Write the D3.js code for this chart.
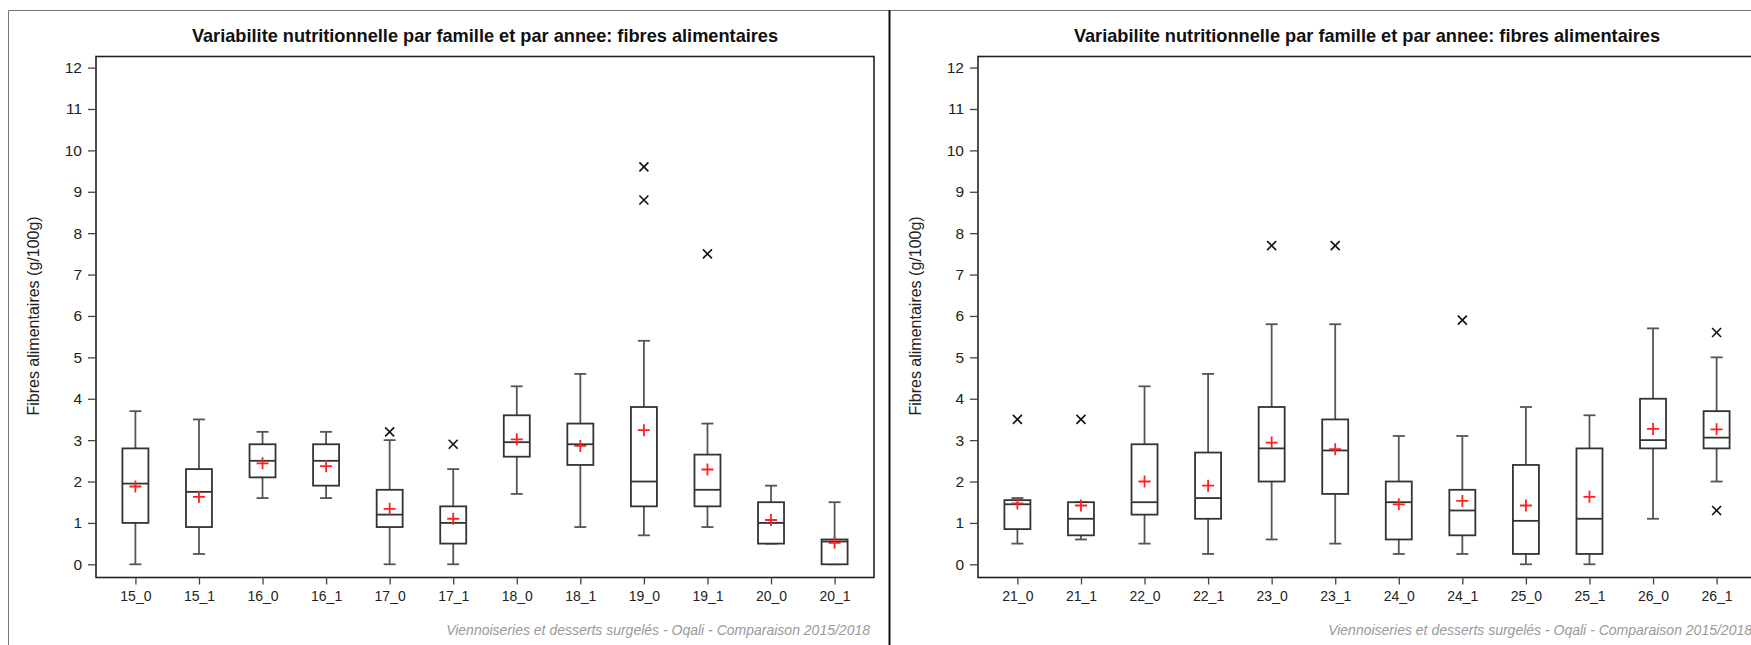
<!DOCTYPE html>
<html><head><meta charset="utf-8">
<script src="https://cdn.jsdelivr.net/npm/d3@7"></script>
<style>body{margin:0;background:#fff}svg{display:block}</style>
</head><body>
<svg id="c" width="1751" height="645"></svg>
<script>
const title = "Variabilite nutritionnelle par famille et par annee: fibres alimentaires";
const yLabel = "Fibres alimentaires (g/100g)";
const footer = "Viennoiseries et desserts surgelés - Oqali - Comparaison 2015/2018";
const yTicks = [0,1,2,3,4,5,6,7,8,9,10,11,12];

const catsA = ["15_0","15_1","16_0","16_1","17_0","17_1","18_0","18_1","19_0","19_1","20_0","20_1"];
const minA  = [0,   0.25,1.6, 1.6, 0,   0,   1.7, 0.9, 0.7, 0.9, 0.5, 0];
const q1A   = [1.0, 0.9, 2.1, 1.9, 0.9, 0.5, 2.6, 2.4, 1.4, 1.4, 0.5, 0];
const medA  = [1.95,1.75,2.5, 2.5, 1.2, 1.0, 2.95,2.9, 2.0, 1.8, 1.0, 0.55];
const q3A   = [2.8, 2.3, 2.9, 2.9, 1.8, 1.4, 3.6, 3.4, 3.8, 2.65,1.5, 0.6];
const maxA  = [3.7, 3.5, 3.2, 3.2, 3.0, 2.3, 4.3, 4.6, 5.4, 3.4, 1.9, 1.5];
const meanA = [1.88,1.63,2.44,2.37,1.34,1.1, 3.02,2.86,3.24,2.29,1.07,0.52];
const outA  = [[],[],[],[],[3.2],[2.9],[],[],[9.6,8.8],[7.5],[],[]];

const catsB = ["21_0","21_1","22_0","22_1","23_0","23_1","24_0","24_1","25_0","25_1","26_0","26_1"];
const minB  = [0.5, 0.6, 0.5, 0.25,0.6, 0.5, 0.25,0.25,0,   0,   1.1, 2.0];
const q1B   = [0.85,0.7, 1.2, 1.1, 2.0, 1.7, 0.6, 0.7, 0.25,0.25,2.8, 2.8];
const medB  = [1.45,1.1, 1.5, 1.6, 2.8, 2.75,1.5, 1.3, 1.05,1.1, 3.0, 3.06];
const q3B   = [1.55,1.5, 2.9, 2.7, 3.8, 3.5, 2.0, 1.8, 2.4, 2.8, 4.0, 3.7];
const maxB  = [1.6, 1.5, 4.3, 4.6, 5.8, 5.8, 3.1, 3.1, 3.8, 3.6, 5.7, 5.0];
const meanB = [1.47,1.42,2.0, 1.9, 2.94,2.78,1.45,1.53,1.42,1.63,3.27,3.26];
const outB  = [[3.5],[3.5],[],[],[7.7],[7.7],[],[5.9],[],[],[],[5.6,1.3]];

const svg = d3.select("#c");
const font = "'Liberation Sans', Arial, sans-serif";

// panel outer borders
svg.append("path").attr("d","M8.5,700 V10.5 H1760").attr("fill","none").attr("stroke","#777").attr("stroke-width",1);
svg.append("line").attr("x1",889.5).attr("x2",889.5).attr("y1",10).attr("y2",700).attr("stroke","#111").attr("stroke-width",2);

function panel(ox, cats, mins, q1s, meds, q3s, maxs, means, outs) {
  const g = svg.append("g").attr("transform", `translate(${ox},0)`);
  const fx0 = 96, fx1 = 874, fy0 = 56.5, fy1 = 577.5;
  const x = d3.scalePoint().domain(cats).range([fx0, fx1]).padding(0.62);
  const y = d3.scaleLinear().domain([0, 12]).range([564.3, 67.6]);

  g.append("text").attr("x", (fx0+fx1)/2).attr("y", 41.5).attr("text-anchor","middle")
    .attr("font-family", font).attr("font-weight","bold").attr("font-size", 18.2).attr("fill","#111").text(title);

  g.append("rect").attr("x",fx0).attr("y",fy0).attr("width",fx1-fx0).attr("height",fy1-fy0)
    .attr("fill","none").attr("stroke","#222").attr("stroke-width",1.6);

  const ya = g.append("g").attr("transform",`translate(${fx0},0)`)
    .call(d3.axisLeft(y).tickValues(yTicks).tickSize(8).tickPadding(6).tickFormat(d3.format("d")));
  ya.select(".domain").remove();
  ya.selectAll("line").attr("stroke","#444").attr("stroke-width",1.3);
  ya.selectAll("text").attr("font-family",font).attr("font-size",15.5).attr("fill","#222");

  const xa = g.append("g").attr("transform",`translate(0,${fy1})`)
    .call(d3.axisBottom(x).tickSize(7).tickPadding(7));
  xa.select(".domain").remove();
  xa.selectAll("line").attr("stroke","#444").attr("stroke-width",1.3);
  xa.selectAll("text").attr("font-family",font).attr("font-size",14).attr("fill","#222");

  g.append("text").attr("transform",`translate(39,${(y(0)+y(12))/2}) rotate(-90)`)
    .attr("text-anchor","middle").attr("font-family",font).attr("font-size",16).attr("fill","#222").text(yLabel);

  g.append("text").attr("x",870).attr("y",635).attr("text-anchor","end").attr("font-family",font)
    .attr("font-style","italic").attr("font-size",14).attr("fill","#999").text(footer);

  const bw = 26, cw = 12, st = "#555";
  cats.forEach((c, i) => {
    const cx = x(c);
    const b = g.append("g").attr("stroke", st).attr("stroke-width", 1.8).attr("fill","none");
    b.append("line").attr("x1",cx).attr("x2",cx).attr("y1",y(q3s[i])).attr("y2",y(maxs[i]));
    b.append("line").attr("x1",cx).attr("x2",cx).attr("y1",y(q1s[i])).attr("y2",y(mins[i]));
    b.append("line").attr("x1",cx-cw/2).attr("x2",cx+cw/2).attr("y1",y(maxs[i])).attr("y2",y(maxs[i]));
    b.append("line").attr("x1",cx-cw/2).attr("x2",cx+cw/2).attr("y1",y(mins[i])).attr("y2",y(mins[i]));
    b.append("rect").attr("x",cx-bw/2).attr("width",bw).attr("y",y(q3s[i])).attr("height",Math.max(0,y(q1s[i])-y(q3s[i]))).attr("fill","#fff").attr("stroke","#333");
    b.append("line").attr("x1",cx-bw/2).attr("x2",cx+bw/2).attr("y1",y(meds[i])).attr("y2",y(meds[i])).attr("stroke","#333");
    const my = y(means[i]);
    g.append("path").attr("d",`M${cx-6},${my}H${cx+6}M${cx},${my-6}V${my+6}`).attr("stroke","#ff2020").attr("stroke-width",1.8);
    outs[i].forEach(v => {
      const oy = y(v);
      g.append("path").attr("d",`M${cx-4.5},${oy-4.5}L${cx+4.5},${oy+4.5}M${cx+4.5},${oy-4.5}L${cx-4.5},${oy+4.5}`)
        .attr("stroke","#111").attr("stroke-width",1.6);
    });
  });
}

panel(0, catsA, minA, q1A, medA, q3A, maxA, meanA, outA);
panel(882, catsB, minB, q1B, medB, q3B, maxB, meanB, outB);
</script>
</body></html>
